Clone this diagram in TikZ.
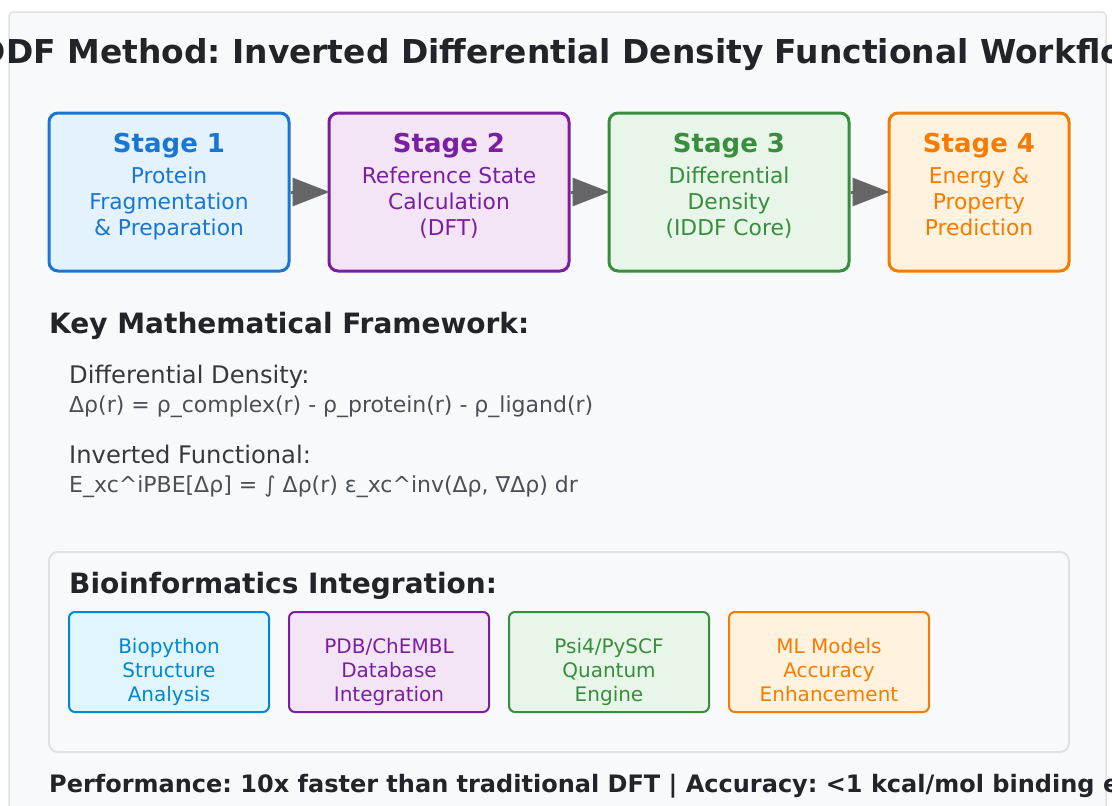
\documentclass[tikz,border=0pt]{standalone}
\usepackage{fontspec}
\setmainfont{DejaVu Sans}
\frenchspacing
\usetikzlibrary{arrows.meta}
\definecolor{pagebg}{HTML}{F8F9FA}
\definecolor{panelline}{HTML}{DEE2E6}
\definecolor{ink}{HTML}{212529}
\definecolor{labelink}{HTML}{343A40}
\definecolor{formink}{HTML}{495057}
\definecolor{arrowgray}{HTML}{666666}
\definecolor{blueA}{HTML}{1976D2}\definecolor{blueF}{HTML}{E3F2FD}
\definecolor{purpA}{HTML}{7B1FA2}\definecolor{purpF}{HTML}{F3E5F5}
\definecolor{greenA}{HTML}{388E3C}\definecolor{greenF}{HTML}{E8F5E9}
\definecolor{orangeA}{HTML}{F57C00}\definecolor{orangeF}{HTML}{FFF3E0}
\definecolor{cyanA}{HTML}{0288D1}\definecolor{cyanF}{HTML}{E1F5FE}
\tikzset{
  stagebox/.style={draw=#1A, fill=#1F, line width=3pt, rounded corners=9pt,
    minimum width=240pt, minimum height=158pt, inner sep=0pt},
  toolbox/.style={draw=#1A, fill=#1F, line width=2pt, rounded corners=6pt,
    minimum width=200pt, minimum height=100pt, inner sep=0pt},
  txt/.style={inner sep=0pt, anchor=base},
  ltxt/.style={inner sep=0pt, anchor=base west},
  stagetitle/.style={txt, text=#1A, font=\fontsize{26}{31}\selectfont\bfseries},
  stagebody/.style={txt, text=#1A, font=\fontsize{21.8}{26}\selectfont},
  tooltext/.style={txt, text=#1A, font=\fontsize{20}{24}\selectfont},
  heading/.style={ltxt, text=ink, font=\fontsize{28}{34}\selectfont\bfseries},
  flabel/.style={ltxt, text=labelink, font=\fontsize{24.2}{29}\selectfont},
  formula/.style={ltxt, text=formink, font=\fontsize{22}{26}\selectfont},
  flow/.style={draw=arrowgray, line width=3pt, shorten >=-2pt,
    -{Triangle[length=37pt,width=28pt]}}
}
\begin{document}
\begin{tikzpicture}[x=1pt,y=-1pt]
\useasboundingbox (0,0) rectangle (1112,806);
\clip (0,0) rectangle (1112,806);
\fill[white] (0,0) rectangle (1112,806);
\draw[fill=pagebg, draw=panelline, line width=1.5pt, rounded corners=4pt] (9,12) rectangle (1106,840);

% title
\node[txt, text=ink, font=\fontsize{32.9}{40}\selectfont\bfseries] (title) at (560,63)
  {IDDF Method: Inverted Differential Density Functional Workflow};

% stages
\node[stagebox=blue] (s1) at (169,192) {};
\node[stagebox=purp] (s2) at (449,192) {};
\node[stagebox=green] (s3) at (729,192) {};
\node[stagebox=orange, minimum width=180pt] (s4) at (979,192) {};

\node[stagetitle=blue] (s1t) at (169,152) {Stage 1};
\node[stagebody=blue] (s1a) at (169,183) {Protein};
\node[stagebody=blue] (s1b) at (169,209) {Fragmentation};
\node[stagebody=blue] (s1c) at (169,235) {\& Preparation};

\node[stagetitle=purp] (s2t) at (449,152) {Stage 2};
\node[stagebody=purp] (s2a) at (449,183) {Reference State};
\node[stagebody=purp] (s2b) at (449,209) {Calculation};
\node[stagebody=purp] (s2c) at (449,235) {(DFT)};

\node[stagetitle=green] (s3t) at (729,152) {Stage 3};
\node[stagebody=green] (s3a) at (729,183) {Differential};
\node[stagebody=green] (s3b) at (729,209) {Density};
\node[stagebody=green] (s3c) at (729,235) {(IDDF Core)};

\node[stagetitle=orange] (s4t) at (979,152) {Stage 4};
\node[stagebody=orange] (s4a) at (979,183) {Energy \&};
\node[stagebody=orange] (s4b) at (979,209) {Property};
\node[stagebody=orange] (s4c) at (979,235) {Prediction};

\draw[flow] (s1.east) -- (s2.west);
\draw[flow] (s2.east) -- (s3.west);
\draw[flow] (s3.east) -- (s4.west);

% math framework
\node[heading] (mh) at (49,333) {Key Mathematical Framework:};
\node[flabel] (l1) at (69,383) {Differential Density:};
\node[formula] (f1) at (69,412) {Δρ(r) = ρ\_complex(r) - ρ\_protein(r) - ρ\_ligand(r)};
\node[flabel] (l2) at (69,463) {Inverted Functional:};
\node[formula] (f2) at (69,492) {E\_xc\textasciicircum iPBE[Δρ] = ∫ Δρ(r) ε\_xc\textasciicircum inv(Δρ, ∇Δρ) dr};

% bioinformatics panel
\draw[fill=pagebg, draw=panelline, line width=2pt, rounded corners=9pt] (49,552) rectangle (1069,752);
\node[heading] (bh) at (69,593) {Bioinformatics Integration:};

\node[toolbox=cyan] (b1) at (169,662) {};
\node[toolbox=purp] (b2) at (389,662) {};
\node[toolbox=green] (b3) at (609,662) {};
\node[toolbox=orange] (b4) at (829,662) {};

\node[tooltext=cyan] (b1a) at (169,653) {Biopython};
\node[tooltext=cyan] (b1b) at (169,677) {Structure};
\node[tooltext=cyan] (b1c) at (169,701) {Analysis};

\node[tooltext=purp] (b2a) at (389,653) {PDB/ChEMBL};
\node[tooltext=purp] (b2b) at (389,677) {Database};
\node[tooltext=purp] (b2c) at (389,701) {Integration};

\node[tooltext=green] (b3a) at (609,653) {Psi4/PySCF};
\node[tooltext=green] (b3b) at (609,677) {Quantum};
\node[tooltext=green] (b3c) at (609,701) {Engine};

\node[tooltext=orange] (b4a) at (829,653) {ML Models};
\node[tooltext=orange] (b4b) at (829,677) {Accuracy};
\node[tooltext=orange] (b4c) at (829,701) {Enhancement};

% footer
\node[ltxt, text=ink, font=\fontsize{24}{29}\selectfont\bfseries] (foot) at (49,792)
  {Performance: 10x faster than traditional DFT | Accuracy: <1 kcal/mol binding e};
\end{tikzpicture}
\end{document}
